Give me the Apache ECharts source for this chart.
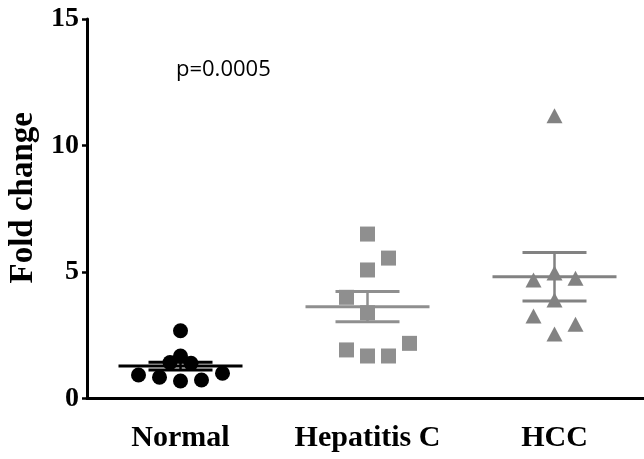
<!DOCTYPE html>
<html>
<head>
<meta charset="utf-8">
<script src="https://cdn.jsdelivr.net/npm/echarts@6/dist/echarts.min.js"></script>
<style>
  html, body { margin: 0; padding: 0; background: #fff; }
  #chart { width: 644px; height: 459px; }
</style>
</head>
<body>
<div id="chart"></div>
<script>
// Groups on the x axis
const categories = ['Normal', 'Hepatitis C', 'HCC'];
const yTicks = [0, 5, 10, 15];

// Fold-change values per group, with the column slot each point sits in
const normalValues = [2.68, 1.68, 1.42, 1.39, 0.93, 0.84, 0.69, 0.73, 1.00];
const normalSlots  = [0,    0,    -0.5, 0.5,  -2,   -1,   0,    1,    2];

const hepCValues = [6.50, 5.55, 5.08, 4.00, 3.39, 1.92, 1.68, 1.68, 2.18];
const hepCSlots  = [0,    1,    0,    -1,   0,    -1,   0,    1,    2];

const hccValues = [11.18, 4.96, 4.68, 4.75, 3.89, 3.26, 2.93, 2.55];
const hccSlots  = [0,     0,    -1,   1,    0,    -1,   1,    0];

// Group mean and standard error of the mean
const means = [1.28, 3.63, 4.81];
const sems  = [0.15, 0.60, 0.96];

const pValueText = 'p=0.0005';

const SLOT_STEP = 21 / 187;   // horizontal spacing between point columns
const serif = '"Liberation Serif", "Times New Roman", serif';

function points(values, slots, groupIndex) {
  return values.map((v, i) => [groupIndex + slots[i] * SLOT_STEP, v]);
}

const groupColors = ['#000000', '#8f8f8f', '#828282'];

const chart = echarts.init(document.getElementById('chart'), null, { renderer: 'canvas' });

const errorData = means.map((m, i) => [i, m, m - sems[i], m + sems[i]]);

chart.setOption({
  animation: false,
  backgroundColor: '#ffffff',
  grid: { left: 87, top: 19, width: 561, bottom: 60.5, containLabel: false, outerBoundsMode: 'none' },
  xAxis: [
    {
      type: 'category',
      data: categories,
      boundaryGap: true,
      axisLine: { lineStyle: { color: '#000', width: 3 } },
      axisTick: { alignWithLabel: true, length: 6, lineStyle: { color: '#000', width: 3 } },
      axisLabel: { interval: 0, color: '#000', fontFamily: serif, fontWeight: 'bold', fontSize: 30, margin: 25 },
      splitLine: { show: false }
    },
    {
      type: 'value',
      min: -0.5,
      max: 2.5,
      show: false
    }
  ],
  yAxis: {
    type: 'value',
    min: yTicks[0],
    max: yTicks[yTicks.length - 1],
    interval: yTicks[1] - yTicks[0],
    name: 'Fold change',
    nameLocation: 'middle',
    nameGap: 45,
    nameRotate: 90,
    nameTextStyle: { color: '#000', fontFamily: serif, fontWeight: 'bold', fontSize: 33, padding: [0, 0, 0, 22] },
    axisLine: { show: true, onZero: false, lineStyle: { color: '#000', width: 3 } },
    axisTick: { show: true, length: 5, lineStyle: { color: '#000', width: 2.5 } },
    axisLabel: { color: '#000', fontFamily: serif, fontWeight: 'bold', fontSize: 28, margin: 8 },
    splitLine: { show: false }
  },
  series: [
    {
      type: 'scatter',
      xAxisIndex: 1,
      symbol: 'circle',
      symbolSize: 15,
      itemStyle: { color: groupColors[0], opacity: 1 },
      data: points(normalValues, normalSlots, 0)
    },
    {
      type: 'scatter',
      xAxisIndex: 1,
      symbol: 'rect',
      symbolSize: 15,
      itemStyle: { color: groupColors[1], opacity: 1 },
      data: points(hepCValues, hepCSlots, 1)
    },
    {
      type: 'scatter',
      xAxisIndex: 1,
      symbol: 'triangle',
      symbolSize: [16, 15],
      itemStyle: { color: groupColors[2], opacity: 1 },
      data: points(hccValues, hccSlots, 2)
    },
    {
      // mean line with SEM whiskers for each group
      type: 'custom',
      xAxisIndex: 1,
      data: errorData,
      z: 5,
      renderItem: function (params, api) {
        const g = api.value(0);
        const c = api.coord([g, api.value(1)]);
        const lo = api.coord([g, api.value(2)]);
        const hi = api.coord([g, api.value(3)]);
        const color = groupColors[params.dataIndex];
        const meanHalf = 62;
        const capHalf = 32;
        const style = { stroke: color, lineWidth: 3 };
        return {
          type: 'group',
          children: [
            { type: 'line', shape: { x1: c[0] - meanHalf, y1: c[1], x2: c[0] + meanHalf, y2: c[1] }, style: style },
            { type: 'line', shape: { x1: hi[0], y1: hi[1], x2: lo[0], y2: lo[1] }, style: { stroke: color, lineWidth: 2.5 } },
            { type: 'line', shape: { x1: hi[0] - capHalf, y1: hi[1], x2: hi[0] + capHalf, y2: hi[1] }, style: style },
            { type: 'line', shape: { x1: lo[0] - capHalf, y1: lo[1], x2: lo[0] + capHalf, y2: lo[1] }, style: style }
          ]
        };
      }
    }
  ],
  graphic: [
    {
      type: 'text',
      x: 176,
      y: 70,
      style: {
        text: pValueText,
        fill: '#000',
        font: '22px "Open Sans", "DejaVu Sans", sans-serif',
        align: 'left',
        verticalAlign: 'middle'
      }
    }
  ]
});
</script>
</body>
</html>
